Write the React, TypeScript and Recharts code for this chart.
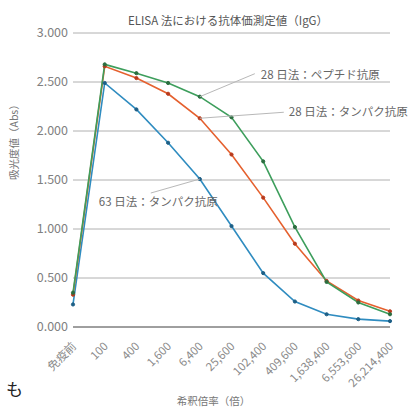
import { CartesianGrid, Line, LineChart, XAxis, YAxis } from "recharts";

const categories = [
  "免疫前",
  "100",
  "400",
  "1,600",
  "6,400",
  "25,600",
  "102,400",
  "409,600",
  "1,638,400",
  "6,553,600",
  "26,214,400",
];
const peptide28 = [0.35, 2.68, 2.59, 2.49, 2.35, 2.14, 1.69, 1.02, 0.46, 0.25, 0.13];
const protein28 = [0.33, 2.66, 2.54, 2.38, 2.13, 1.76, 1.32, 0.85, 0.47, 0.27, 0.16];
const protein63 = [0.23, 2.49, 2.22, 1.88, 1.51, 1.03, 0.55, 0.26, 0.13, 0.08, 0.06];
const yTicks = [0, 0.5, 1, 1.5, 2, 2.5, 3];

const data = categories.map((cat, i) => ({
  cat,
  peptide28: peptide28[i],
  protein28: protein28[i],
  protein63: protein63[i],
}));

const font = "'Noto Sans CJK JP', 'Noto Sans', sans-serif";

// leader line + text attached to one point of a series
const callout =
  (idx: number, lx: number, ly: number, tx: number, ty: number, text: string) =>
  (props: any) => {
    if (props.index !== idx) return null;
    const { x, y } = props;
    return (
      <g>
        <line x1={x} y1={y} x2={x + lx} y2={y + ly} stroke="#b8b8b8" strokeWidth={1} />
        <text x={x + tx} y={y + ty} fontSize={11.5} fill="#666" fontFamily={font}>
          {text}
        </text>
      </g>
    );
  };

const XTick = ({ x, y, payload }: any) => (
  <text
    x={x + 4}
    y={y + 12}
    transform={`rotate(-45, ${x + 4}, ${y + 12})`}
    textAnchor="end"
    fontSize={11.5}
    fill="#8a8a8a"
    fontFamily={font}
  >
    {payload.value}
  </text>
);

export default function App() {
  return (
    <div style={{ position: "absolute", left: 0, top: 0, width: 409, height: 409, background: "#fff" }}>
      <div
        style={{
          position: "absolute",
          left: 228,
          top: 12,
          transform: "translateX(-50%)",
          whiteSpace: "nowrap",
          fontSize: 11.5,
          color: "#555",
          fontFamily: font,
        }}
      >
        ELISA 法における抗体価測定値（IgG）
      </div>
      <div
        style={{
          position: "absolute",
          left: 6,
          top: 376,
          fontSize: 17,
          color: "#222",
          fontFamily: font,
        }}
      >
        も
      </div>
      <LineChart
        width={409}
        height={409}
        data={data}
        margin={{ top: 33, right: 19, left: 0, bottom: 0 }}
      >
        <CartesianGrid vertical={false} stroke="#b0b0b0" />
        <XAxis
          dataKey="cat"
          interval={0}
          height={82}
          tickLine={false}
          axisLine={{ stroke: "#666" }}
          tick={<XTick />}
          label={{
            value: "希釈倍率（倍）",
            position: "insideBottom",
            offset: 4,
            dx: -18,
            fontSize: 10.5,
            fill: "#777",
            fontFamily: font,
          }}
        />
        <YAxis
          domain={[0, 3]}
          ticks={yTicks}
          width={73}
          axisLine={false}
          tickLine={false}
          tickSize={3}
          tickMargin={2}
          tickFormatter={(v) => v.toFixed(3)}
          tick={{ fontSize: 12.5, fill: "#808080", fontFamily: font }}
          label={{
            value: "吸光度値（Abs）",
            angle: -90,
            position: "insideLeft",
            offset: 14,
            fontSize: 10.5,
            fill: "#777",
            fontFamily: font,
          }}
        />
        <Line
          type="linear"
          dataKey="protein63"
          stroke="#2f8cc0"
          strokeWidth={1.6}
          dot={{ r: 1.6, fill: "#1d5f86", stroke: "#1d5f86", strokeWidth: 1 }}
          isAnimationActive={false}
          label={callout(4, -49, 14, -101, 27, "63 日法：タンパク抗原")}
        />
        <Line
          type="linear"
          dataKey="protein28"
          stroke="#e5602e"
          strokeWidth={1.6}
          dot={{ r: 1.6, fill: "#b83a1c", stroke: "#b83a1c", strokeWidth: 1 }}
          isAnimationActive={false}
          label={callout(4, 84, -6, 89, -2, "28 日法：タンパク抗原")}
        />
        <Line
          type="linear"
          dataKey="peptide28"
          stroke="#3d9e5c"
          strokeWidth={1.6}
          dot={{ r: 1.6, fill: "#2b6e40", stroke: "#2b6e40", strokeWidth: 1 }}
          isAnimationActive={false}
          label={callout(4, 55, -23, 61, -18, "28 日法：ペプチド抗原")}
        />
      </LineChart>
    </div>
  );
}
